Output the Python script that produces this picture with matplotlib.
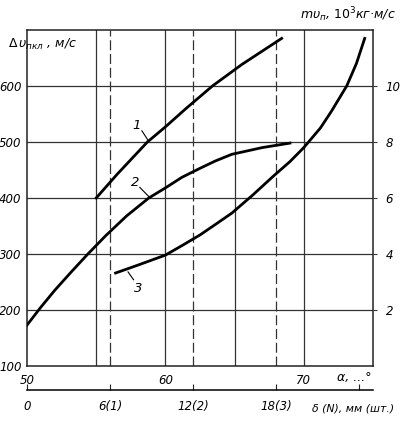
import matplotlib
matplotlib.use("Agg")
import matplotlib.pyplot as plt

# ---- data ----
alpha1 = [55.0, 56.5, 58.7, 60.0, 61.5, 63.4, 65.5, 68.4]
v1 = [400, 442, 500, 527, 560, 600, 638, 685]

alpha2 = [50.0, 51.0, 52.0, 53.2, 54.4, 55.7, 57.2, 58.8, 60.0, 61.2, 62.5, 63.6, 64.8, 67.0, 69.0]
v2 = [173, 205, 235, 268, 300, 333, 368, 400, 418, 437, 453, 466, 478, 490, 498]

alpha3 = [56.4, 58.0, 60.0, 61.2, 62.5, 63.6, 64.8, 66.3, 67.8, 69.0, 70.0, 71.2, 72.0, 73.1, 73.8, 74.4]
mv3 = [3.32, 3.6, 3.96, 4.3, 4.68, 5.05, 5.46, 6.1, 6.78, 7.3, 7.8, 8.5, 9.1, 10.0, 10.8, 11.7]

left_ticks = [100, 200, 300, 400, 500, 600]
right_ticks = [2, 4, 6, 8, 10]
alpha_ticks = [50, 60, 70]
alpha_solid = [55, 60, 65, 70]
delta_ticks = [0, 6, 12, 18, 24]
delta_labels = ["0", "6(1)", "12(2)", "18(3)", ""]

fs = 8.5
fig = plt.figure(figsize=(4.0, 4.32), dpi=100)
ax = fig.add_axes([0.0675, 0.1528, 0.865, 0.7778])
ax.set_xlim(50, 75)
ax.set_ylim(100, 700)

# grid
for y in [200, 300, 400, 500, 600]:
    ax.axhline(y, color="#333333", lw=0.9, zorder=1)
for a in alpha_solid:
    ax.axvline(a, color="#333333", lw=0.9, zorder=1)
for d in delta_ticks[1:4]:
    ax.axvline(50 + d, color="#333333", lw=0.9, ls=(0, (8, 3)), zorder=1)

ax.plot(alpha1, v1, color="black", lw=2.0, zorder=3)
ax.plot(alpha2, v2, color="black", lw=2.0, zorder=3)

for s in ax.spines.values():
    s.set_linewidth(1.1)
    s.set_color("#222222")

ax.set_yticks(left_ticks)
ax.set_yticklabels([str(t) for t in left_ticks], fontsize=fs, style="italic")
ax.tick_params(axis="y", length=0, pad=4)
ax.set_xticks(alpha_ticks)
ax.set_xticklabels([str(t) for t in alpha_ticks], fontsize=fs, style="italic")
ax.tick_params(axis="x", length=0, pad=6)

ax2 = ax.twinx()
ax2.set_ylim(0, 12)
ax2.plot(alpha3, mv3, color="black", lw=2.0, zorder=3)
ax2.set_yticks(right_ticks)
ax2.set_yticklabels([str(t) for t in right_ticks], fontsize=fs, style="italic")
ax2.tick_params(axis="y", length=3, pad=6, color="#333333")
for s in ax2.spines.values():
    s.set_visible(False)

# secondary delta axis
sec = ax.secondary_xaxis(-0.071, functions=(lambda a: a - 50, lambda d: d + 50))
sec.set_xticks(delta_ticks)
sec.set_xticklabels(delta_labels, fontsize=fs, style="italic")
sec.tick_params(axis="x", direction="in", length=4, pad=7, color="#222222")
sec.spines["bottom"].set_linewidth(1.1)

# labels
fig.text(0.02, 0.898, r"$\Delta\,\upsilon_{пкл}$ , м/с", fontsize=9, style="italic", ha="left", va="center")
fig.text(0.99, 0.965, r"$m\upsilon_{п}$, $10^{3}$кг·м/с", fontsize=9, style="italic", ha="right", va="center")
fig.text(0.885, 0.125, "α, ...°", fontsize=fs + 0.5, style="italic", ha="center", va="center")
fig.text(0.985, 0.055, "δ (N), мм (шт.)", fontsize=7.8, style="italic", ha="right", va="center")

# curve labels
ax.text(57.9, 530, "1", fontsize=9.5, style="italic", ha="center", va="center")
ax.plot([58.3, 58.75], [520, 503], color="black", lw=0.8)
ax.text(57.8, 428, "2", fontsize=9.5, style="italic", ha="center", va="center")
ax.plot([58.15, 58.9], [419, 400], color="black", lw=0.8)
ax.text(58.05, 238, "3", fontsize=9.5, style="italic", ha="center", va="center")
ax.plot([57.3, 57.7], [268, 254], color="black", lw=0.8)

fig.savefig("out.png", dpi=100, facecolor="white")
